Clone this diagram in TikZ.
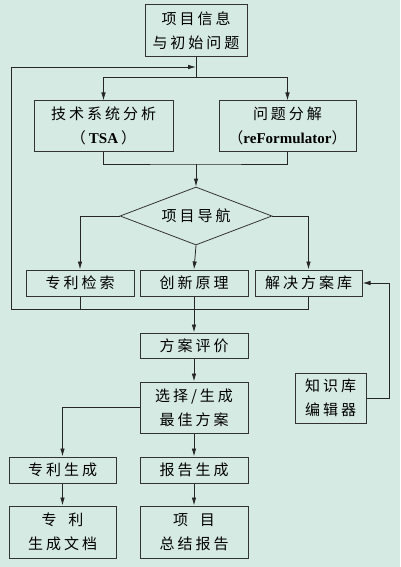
\documentclass[tikz,border=0pt]{standalone}
\usepackage{fontspec}
\usetikzlibrary{arrows.meta,shapes.geometric}
\newfontfamily\cjk[LetterSpace=20]{Noto Sans CJK SC}
\newfontfamily\latin{Liberation Serif}
\definecolor{bgteal}{RGB}{214,234,228}
\begin{document}
\begin{tikzpicture}[
	x=1pt, y=-1pt,
	box/.style={ draw=black!80, line width=1pt, fill=bgteal, inner sep=2pt, align=center,
	  font=\cjk\fontsize{15}{24}\selectfont },
	navbox/.style={ diamond, draw=black!80, line width=0.8pt, fill=bgteal, inner sep=0pt,
	  aspect=2.6, minimum width=152, minimum height=58, font=\cjk\fontsize{15}{24}\selectfont },
	line/.style={ draw=black!85, line width=0.8pt },
	arr/.style={ line, -{Latex[length=8pt,width=4.5pt]} }
]

\fill[bgteal] (0,0) rectangle (400,567);
\useasboundingbox (0,0) rectangle (400,567);

\node at (196,31) (info) [box,minimum width=102,minimum height=52] {项目信息\\与初始问题};
\node at (103.5,126) (tsa) [box,minimum width=139,minimum height=50] {技术系统分析\\（\hspace{3pt}{\latin\bfseries TSA}\hspace{3pt}）};
\node at (287.5,126) (refo) [box,minimum width=137,minimum height=50] {问题分解\\（{\latin\bfseries reFormulator}）};
\node at (196,216) (nav) [navbox] {项目导航};
\node at (80,283) (pat) [box,minimum width=108,minimum height=26] {专利检索};
\node at (194,283) (inno) [box,minimum width=108,minimum height=26] {创新原理};
\node at (308.5,283) (solu) [box,minimum width=107,minimum height=26] {解决方案库};
\node at (194,345.5) (eval) [box,minimum width=108,minimum height=25] {方案评价};
\node at (194,407.5) (sel) [box,minimum width=108,minimum height=51] {选择/生成\\最佳方案};
\node at (330.5,398) (kb) [box,minimum width=71,minimum height=50] {知识库\\编辑器};
\node at (62.5,470) (pgen) [box,minimum width=107,minimum height=26] {专利生成};
\node at (194,470) (rgen) [box,minimum width=108,minimum height=26] {报告生成};
\node at (62.5,532) (pdoc) [box,minimum width=107,minimum height=52] {专\hspace{0.8em}利\\生成文档};
\node at (194,532) (rsum) [box,minimum width=108,minimum height=52] {项\hspace{0.8em}目\\总结报告};

\coordinate (s1) at (196,77);
\coordinate (fbend) at (196,67);
\coordinate (fbt) at (11,67);
\coordinate (fbl) at (11,309);
\coordinate (j1) at (196,164);
\coordinate (kbc) at (389,283);

\draw[line] (info.south) -- (s1);
\draw[arr] (s1) -| (tsa.north);
\draw[arr] (s1) -| (refo.north);
\draw[line] (tsa.south) |- (j1) -| (refo.south);
\draw[arr] (j1) -- (nav.north);
\draw[arr] (nav.west) -| (pat.north);
\draw[arr] (nav.east) -| (solu.north);
\draw[arr] (nav.south) -- (inno.north);
\draw[arr] (solu.south) |- (fbl) -- (fbt) -- (fbend);
\draw[line] (pat.south) -- (pat.south |- fbl);
\draw[arr] (inno.south) -- (eval.north);
\draw[arr] (eval.south) -- (sel.north);
\draw[arr] (kb.east) -| (kbc) -- (solu.east);
\draw[arr] (sel.west) -| (pgen.north);
\draw[arr] (sel.south) -- (rgen.north);
\draw[arr] (pgen.south) -- (pdoc.north);
\draw[arr] (rgen.south) -- (rsum.north);

\end{tikzpicture}
\end{document}
